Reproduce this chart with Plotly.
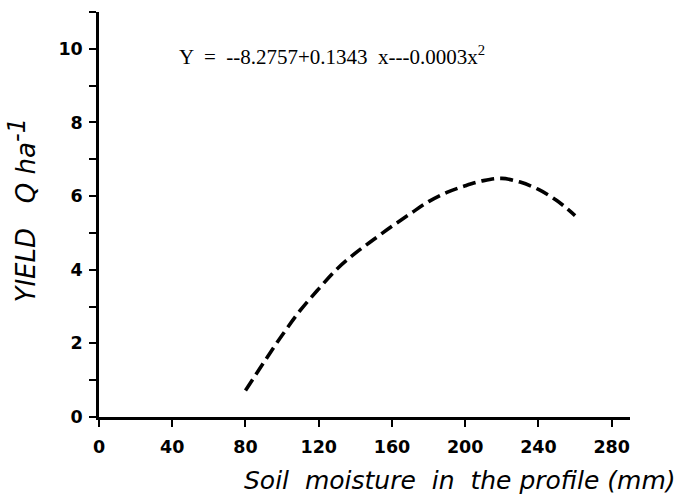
import plotly.graph_objects as go

moisture = [80, 90, 100, 110, 120, 130, 140, 150, 160, 170, 180, 190, 200, 210, 220, 230, 240, 250, 260]
yield_q = [0.72, 1.48, 2.22, 2.9, 3.48, 4.02, 4.45, 4.82, 5.18, 5.52, 5.85, 6.1, 6.28, 6.42, 6.48, 6.38, 6.18, 5.88, 5.47]

x_ticks = [0, 40, 80, 120, 160, 200, 240, 280]
y_ticks = [0, 2, 4, 6, 8, 10]

fig = go.Figure()
fig.add_trace(go.Scatter(
    x=moisture, y=yield_q, mode="lines", line_shape="spline",
    line=dict(color="black", width=3.6, dash="13px,6px"), showlegend=False,
))

tickfont = dict(family="DejaVu Sans, sans-serif", size=17.5, color="black", weight="bold")

fig.update_layout(
    width=680, height=499,
    margin=dict(l=99, r=50, t=12, b=82),
    paper_bgcolor="white", plot_bgcolor="white",
    xaxis=dict(
        range=[0, 290], tickvals=x_ticks, ticktext=[str(v) for v in x_ticks],
        showline=True, linecolor="black", linewidth=2.5, mirror=False,
        ticks="outside", ticklen=7, tickwidth=2, tickcolor="black",
        ticklabelstandoff=5,
        showgrid=False, zeroline=False, tickfont=tickfont,
    ),
    yaxis=dict(
        range=[0, 11], tickvals=y_ticks, ticktext=[str(v) for v in y_ticks],
        showline=True, linecolor="black", linewidth=2.5,
        ticks="outside", ticklen=7, tickwidth=2, tickcolor="black",
        ticklabelstandoff=3,
        minor=dict(tickvals=[1, 3, 5, 7, 9, 11], ticks="outside", ticklen=7, tickwidth=2, tickcolor="black"),
        showgrid=False, zeroline=False, tickfont=tickfont,
    ),
)

fig.add_annotation(
    text="Soil  moisture  in  the profile (mm)",
    xref="paper", yref="paper", x=1.09, y=-0.115, xanchor="right", yanchor="top",
    showarrow=False,
    font=dict(family="DejaVu Sans, sans-serif", size=25, color="black", style="italic"),
)
fig.add_annotation(
    text="YIELD   Q ha<sup><span style='font-size:24px'>-1</span></sup>",
    xref="paper", yref="paper", x=-0.145, y=0.51, xanchor="center", yanchor="middle",
    textangle=-90, showarrow=False,
    font=dict(family="DejaVu Sans, sans-serif", size=26, color="black", style="italic"),
)
fig.add_annotation(
    text="Y  =  --8.2757+0.1343  x---0.0003x<sup>2</sup>",
    xref="x", yref="y", x=42.6, y=9.82, xanchor="left", yanchor="middle",
    showarrow=False,
    font=dict(family="Liberation Serif, Times New Roman, serif", size=21, color="black"),
)

fig.write_html("out.html")
